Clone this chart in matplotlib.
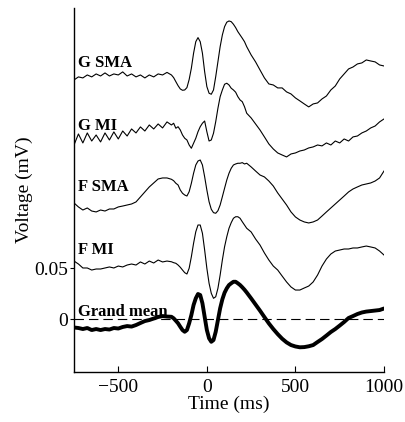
import matplotlib
matplotlib.use("Agg")
import matplotlib.pyplot as plt

# ---- data (time in ms, voltage in mV) ----
time_ms = (list(range(-750, -200, 25))
           + [-200, -187.5, -175, -162.5, -150, -137.5, -125, -112.5, -100, -87.5,
              -75, -62.5, -50, -37.5, -25, -12.5, 0, 12.5, 25, 37.5,
              50, 62.5, 75, 87.5, 100, 112.5, 125, 137.5, 150, 162.5,
              175, 187.5, 200, 212.5, 225]
           + list(range(250, 1001, 25)))

g_sma = [0.2345, 0.2375, 0.2365, 0.2394, 0.2375, 0.2404, 0.2384, 0.2414, 0.2384, 0.2404,
         0.2394, 0.2424, 0.2384, 0.2404, 0.2375, 0.2394, 0.2365, 0.2394, 0.2375, 0.2404,
         0.2394, 0.2419,
         0.2394, 0.2368, 0.2328, 0.2289, 0.2257, 0.2244, 0.2247, 0.2270, 0.2349, 0.2460,
         0.2607, 0.2720, 0.2760, 0.2720, 0.2607, 0.2426, 0.2280, 0.2215, 0.2205, 0.2247,
         0.2377, 0.2524, 0.2671, 0.2786, 0.2867, 0.2911, 0.2923, 0.2916, 0.2891, 0.2858,
         0.2818, 0.2786, 0.2754, 0.2720, 0.2671,
         0.2590, 0.2522, 0.2443, 0.2365, 0.2306, 0.2296, 0.2267, 0.2267, 0.2228, 0.2208,
         0.2169, 0.2140, 0.2110, 0.2081, 0.2110, 0.2120, 0.2159, 0.2188, 0.2247, 0.2286,
         0.2355, 0.2404, 0.2453, 0.2472, 0.2502, 0.2512, 0.2541, 0.2531, 0.2522, 0.2492,
         0.2482]

g_mi = [0.1708, 0.1816, 0.1728, 0.1826, 0.1747, 0.1806, 0.1738, 0.1826, 0.1757, 0.1836,
        0.1767, 0.1845, 0.1796, 0.1865, 0.1826, 0.1885, 0.1845, 0.1904, 0.1865, 0.1914,
        0.1875, 0.1934,
        0.1904, 0.1921, 0.1872, 0.1887, 0.1855, 0.1806, 0.1774, 0.1757, 0.1708, 0.1676,
        0.1725, 0.1774, 0.1838, 0.1887, 0.1921, 0.1943, 0.1838, 0.1747, 0.1757, 0.1823,
        0.1936, 0.2068, 0.2181, 0.2247, 0.2303, 0.2313, 0.2296, 0.2264, 0.2247, 0.2225,
        0.2181, 0.2149, 0.2132, 0.2083, 0.2019,
        0.1973, 0.1914, 0.1855, 0.1787, 0.1718, 0.1669, 0.1630, 0.1610, 0.1591, 0.1620,
        0.1630, 0.1649, 0.1659, 0.1679, 0.1689, 0.1708, 0.1699, 0.1728, 0.1708, 0.1747,
        0.1728, 0.1767, 0.1747, 0.1787, 0.1796, 0.1826, 0.1845, 0.1875, 0.1894, 0.1934,
        0.1963]

f_sma = [0.1140, 0.1101, 0.1071, 0.1091, 0.1061, 0.1052, 0.1071, 0.1061, 0.1081, 0.1081,
         0.1101, 0.1110, 0.1120, 0.1130, 0.1150, 0.1199, 0.1248, 0.1297, 0.1336, 0.1375,
         0.1385, 0.1385,
         0.1372, 0.1358, 0.1333, 0.1316, 0.1267, 0.1235, 0.1218, 0.1208, 0.1250, 0.1333,
         0.1431, 0.1512, 0.1551, 0.1561, 0.1512, 0.1397, 0.1267, 0.1152, 0.1078, 0.1045,
         0.1039, 0.1064, 0.1120, 0.1201, 0.1284, 0.1365, 0.1431, 0.1480, 0.1512, 0.1522,
         0.1529, 0.1529, 0.1535, 0.1522, 0.1529,
         0.1493, 0.1453, 0.1414, 0.1395, 0.1355, 0.1306, 0.1238, 0.1179, 0.1120, 0.1052,
         0.1003, 0.0973, 0.0954, 0.0944, 0.0954, 0.0973, 0.1012, 0.1052, 0.1091, 0.1130,
         0.1169, 0.1208, 0.1248, 0.1277, 0.1297, 0.1316, 0.1326, 0.1336, 0.1355, 0.1385,
         0.1453]

f_mi = [0.0571, 0.0542, 0.0503, 0.0503, 0.0483, 0.0493, 0.0493, 0.0503, 0.0513, 0.0503,
        0.0522, 0.0513, 0.0532, 0.0542, 0.0532, 0.0562, 0.0542, 0.0571, 0.0552, 0.0581,
        0.0562, 0.0571,
        0.0564, 0.0555, 0.0549, 0.0532, 0.0510, 0.0483, 0.0457, 0.0444, 0.0500, 0.0613,
        0.0745, 0.0858, 0.0924, 0.0924, 0.0843, 0.0679, 0.0500, 0.0353, 0.0255, 0.0206,
        0.0221, 0.0304, 0.0434, 0.0581, 0.0711, 0.0809, 0.0892, 0.0947, 0.0990, 0.1005,
        0.1005, 0.0990, 0.0956, 0.0924, 0.0892,
        0.0856, 0.0787, 0.0728, 0.0650, 0.0581, 0.0522, 0.0483, 0.0424, 0.0366, 0.0317,
        0.0287, 0.0287, 0.0307, 0.0326, 0.0366, 0.0434, 0.0522, 0.0591, 0.0640, 0.0669,
        0.0679, 0.0689, 0.0689, 0.0699, 0.0699, 0.0709, 0.0718, 0.0709, 0.0699, 0.0669,
        0.0630]

grand_mean = [-0.0080, -0.0085, -0.0095, -0.0085, -0.0105, -0.0095, -0.0105, -0.0095, -0.0100, -0.0085,
              -0.0090, -0.0075, -0.0066, -0.0071, -0.0056, -0.0036, -0.0017, -0.0007, 0.0008, 0.0023,
              0.0032, 0.0027,
              0.0025, 0.0010, -0.0014, -0.0039, -0.0073, -0.0105, -0.0122, -0.0105, -0.0039, 0.0042,
              0.0140, 0.0206, 0.0248, 0.0238, 0.0157, 0.0025, -0.0105, -0.0186, -0.0220, -0.0203,
              -0.0122, -0.0007, 0.0108, 0.0196, 0.0261, 0.0304, 0.0336, 0.0353, 0.0368, 0.0368,
              0.0353, 0.0336, 0.0314, 0.0290, 0.0263,
              0.0205, 0.0145, 0.0085, 0.0022, -0.0040, -0.0095, -0.0145, -0.0190, -0.0226, -0.0252,
              -0.0266, -0.0274, -0.0272, -0.0264, -0.0252, -0.0222, -0.0193, -0.0159, -0.0124, -0.0095,
              -0.0061, -0.0026, 0.0013, 0.0032, 0.0052, 0.0067, 0.0076, 0.0081, 0.0086, 0.0091,
              0.0106]

trace_labels = ["G SMA", "G MI", "F SMA", "F MI", "Grand mean"]
label_y = [0.251, 0.1896, 0.130, 0.068, 0.0072]

x_ticks = [-500, 0, 500, 1000]
x_tick_labels = ["\u2212500", "0", "500", "1000"]
y_ticks = [0, 0.05]
y_tick_labels = ["0", "0.05"]

# ---- figure ----
plt.rcParams["font.family"] = ["Liberation Serif", "DejaVu Serif"]
fig = plt.figure(figsize=(4.05, 4.22), dpi=100)
ax = fig.add_axes([74 / 405, 1 - 372 / 422, 310 / 405, 364 / 422])

for tr in [g_sma, g_mi, f_sma, f_mi]:
    ax.plot(time_ms, tr, color="black", lw=0.8)
ax.plot(time_ms, grand_mean, color="black", lw=2.8,
        solid_joinstyle="round", solid_capstyle="round")
ax.plot([-750, 1000], [0, 0], color="black", lw=0.8, dashes=(8.5, 4.5))

for lab, yy in zip(trace_labels, label_y):
    ax.text(-728, yy, lab, fontsize=12, fontweight="bold", ha="left", va="center")

ax.set_xlim(-750, 1000)
ax.set_ylim(-0.0516, 0.305)
ax.set_xticks(x_ticks)
ax.set_xticklabels(x_tick_labels)
ax.set_yticks(y_ticks)
ax.set_yticklabels(y_tick_labels)
ax.tick_params(axis="x", direction="in", length=4, width=0.8, labelsize=14, pad=5)
ax.tick_params(axis="y", direction="out", length=3, width=0.8, labelsize=14, pad=1)
for s in ["top", "right"]:
    ax.spines[s].set_visible(False)
for s in ["left", "bottom"]:
    ax.spines[s].set_linewidth(1.0)

ax.set_xlabel("Time (ms)", fontsize=14, labelpad=0)
ax.set_ylabel("Voltage (mV)", fontsize=14, labelpad=1)

fig.savefig("out.png", dpi=100)
